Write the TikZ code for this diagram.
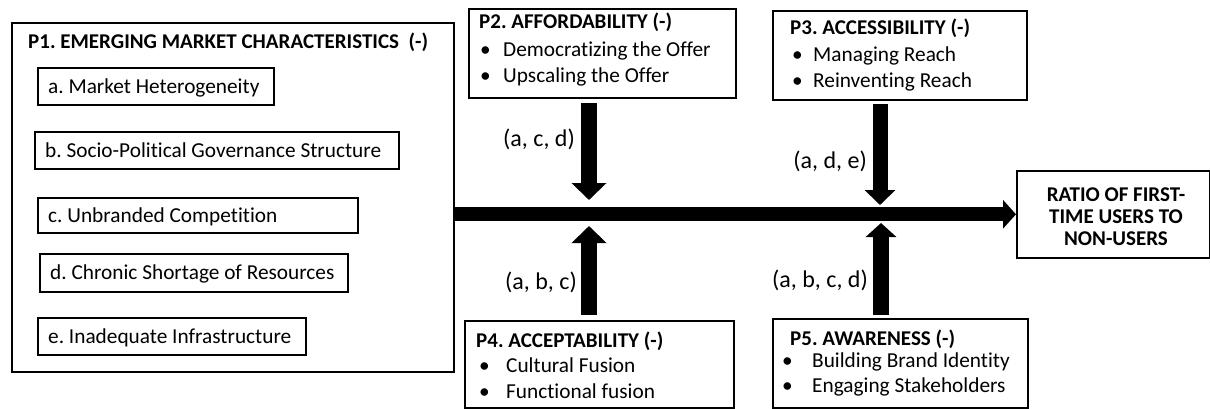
\documentclass[tikz,border=0pt]{standalone}
\usepackage{fontspec}
\setmainfont{Carlito}[Ligatures=NoCommon]
\usetikzlibrary{arrows.meta}
\frenchspacing
\begin{document}
\begin{tikzpicture}[x=1pt,y=-1pt,
  box/.style={draw,line width=1.6pt,anchor=north west,inner sep=0pt},
  ttl/.style={anchor=base west,inner sep=0pt,font=\fontsize{21}{24}\selectfont\bfseries\frenchspacing},
  txt/.style={anchor=base west,inner sep=0pt,font=\fontsize{21.3}{24}\selectfont\frenchspacing},
  lbl/.style={anchor=base east,inner sep=0pt,font=\fontsize{24}{28}\selectfont\frenchspacing},
  bigarrow/.style={line width=16pt,-{Triangle[length=17pt,width=34pt]}},
  mainarrow/.style={line width=14pt,-{Triangle[length=13pt,width=28pt]}}]
\useasboundingbox (0,0) rectangle (1210,408);

% P1
\node[box,minimum width=442pt,minimum height=349pt] (P1) at (11,22) {};
\node[ttl] (P1t) at (28,48) {P1. EMERGING MARKET CHARACTERISTICS\ \ (-)};
\node[box,minimum width=236pt,minimum height=37pt] (Pa) at (37,67) {};
\node[txt] (Pat) at (48,93) {a. Market Heterogeneity};
\node[box,minimum width=364pt,minimum height=37pt] (Pb) at (34,131) {};
\node[txt] (Pbt) at (45,157) {b. Socio-Political Governance Structure};
\node[box,minimum width=320pt,minimum height=35pt] (Pc) at (37,197) {};
\node[txt] (Pct) at (48,222) {c. Unbranded Competition};
\node[box,minimum width=308pt,minimum height=38pt] (Pd) at (39,253) {};
\node[txt] (Pdt) at (50,279) {d. Chronic Shortage of Resources};
\node[box,minimum width=268pt,minimum height=37pt] (Pe) at (37,317) {};
\node[txt] (Pet) at (48,343) {e. Inadequate Infrastructure};

% RATIO
\node[box,minimum width=193pt,minimum height=87pt] (R) at (1016,170) {};
\node[anchor=base,inner sep=0pt,font=\fontsize{21}{24}\selectfont\bfseries] (R1) at (1116,201) {RATIO OF FIRST-};
\node[anchor=base,inner sep=0pt,font=\fontsize{21}{24}\selectfont\bfseries] (R2) at (1116,223) {TIME USERS TO};
\node[anchor=base,inner sep=0pt,font=\fontsize{21}{24}\selectfont\bfseries] (R3) at (1116,245) {NON-USERS};

% P2
\node[box,minimum width=267pt,minimum height=89pt] (P2) at (468,8) {};
\node[ttl] (P2t) at (479,28) {P2. AFFORDABILITY (-)};
\node[txt] (P2b1) at (480,56) {•}; \node[txt] (P2i1) at (503,56) {Democratizing the Offer};
\node[txt] (P2b2) at (480,82) {•}; \node[txt] (P2i2) at (503,82) {Upscaling the Offer};

% P3
\node[box,minimum width=254pt,minimum height=89pt] (P3) at (772,10) {};
\node[ttl] (P3t) at (790,34) {P3. ACCESSIBILITY (-)};
\node[txt] (P3b1) at (792,61) {•}; \node[txt] (P3i1) at (813,61) {Managing Reach};
\node[txt] (P3b2) at (792,87) {•}; \node[txt] (P3i2) at (813,87) {Reinventing Reach};

% P4
\node[box,minimum width=269pt,minimum height=87pt] (P4) at (464,320) {};
\node[ttl] (P4t) at (476,347) {P4. ACCEPTABILITY (-)};
\node[txt] (P4b1) at (479,372) {•}; \node[txt] (P4i1) at (506,372) {Cultural Fusion};
\node[txt] (P4b2) at (479,398) {•}; \node[txt] (P4i2) at (506,398) {Functional fusion};

% P5
\node[box,minimum width=255pt,minimum height=89pt] (P5) at (772,318) {};
\node[ttl] (P5t) at (790,345) {P5. AWARENESS (-)};
\node[txt] (P5b1) at (782,367) {•}; \node[txt] (P5i1) at (812,367) {Building Brand Identity};
\node[txt] (P5b2) at (782,392) {•}; \node[txt] (P5i2) at (812,392) {Engaging Stakeholders};

% main arrow
\draw[mainarrow] (P1.east |- R.west) -- (R.west);

% vertical arrows
\coordinate (a2s) at (589,103); \coordinate (a2e) at (589,200);
\coordinate (a3s) at (880,104); \coordinate (a3e) at (880,205);
\coordinate (a4s) at (589,315); \coordinate (a4e) at (589,226);
\coordinate (a5s) at (881,315); \coordinate (a5e) at (881,223);
\draw[bigarrow] (a2s) -- (a2e);
\draw[line width=15pt,-{Triangle[length=15pt,width=30pt]}] (a3s) -- (a3e);
\draw[bigarrow] (a4s) -- (a4e);
\draw[line width=16pt,-{Triangle[length=14pt,width=30pt]}] (a5s) -- (a5e);

\node[lbl] (L2) at (575,146) {(a, c, d)};
\node[lbl] (L3) at (867,168) {(a, d, e)};
\node[lbl] (L4) at (577,289) {(a, b, c)};
\node[lbl] (L5) at (868,287) {(a, b, c, d)};
\end{tikzpicture}
\end{document}
